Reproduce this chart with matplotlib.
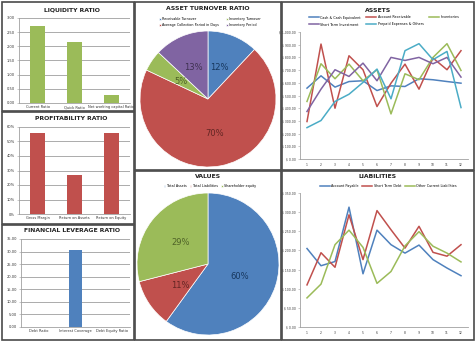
import matplotlib
matplotlib.use("Agg")
import matplotlib.pyplot as plt
from matplotlib.patches import Rectangle
import numpy as np

W, H = 476, 343
plt.rcParams['font.family'] = ['DejaVu Sans']

# ---------------- data ----------------
liq_cats = ["Current Ratio", "Quick Ratio", "Net working capital Ratio"]
liq_vals = [2.71, 2.14, 0.29]
liq_ticks = [0.0, 0.5, 1.0, 1.5, 2.0, 2.5, 3.0]

prof_cats = ["Gross Margin", "Return on Assets", "Return on Equity"]
prof_vals = [0.556, 0.269, 0.562]
prof_ticks = [0.0, 0.1, 0.2, 0.3, 0.4, 0.5, 0.6]

lev_cats = ["Debt Ratio", "Interest Coverage", "Debt Equity Ratio"]
lev_vals = [0.0, 30.6, 0.0]
lev_ticks = [0, 5, 10, 15, 20, 25, 30, 35]

turn_labels = ["Receivable Turnover", "Average Collection Period in Days",
               "Inventory Turnover", "Inventory Period"]
turn_vals = [12, 70, 5, 13]

val_labels = ["Total Assets", "Total Liabilities", "Shareholder equity"]
val_vals = [60, 11, 29]

months = list(range(1, 13))
asset_names = ["Cash & Cash Equivalent", "Account Receivable", "Inventories",
               "Short Term Investment", "Prepaid Expenses & Others"]
cash = [558, 655, 566, 610, 616, 539, 576, 571, 632, 624, 610, 597]
receivable = [295, 905, 400, 813, 703, 413, 597, 747, 550, 795, 703, 853]
inventories = [453, 750, 632, 747, 616, 703, 355, 671, 624, 800, 908, 697]
short_inv = [374, 550, 703, 650, 755, 616, 800, 776, 800, 750, 800, 645]
prepaid = [247, 303, 453, 510, 603, 708, 474, 853, 908, 782, 847, 405]
asset_ticks = list(range(0, 1001, 100))

liab_names = ["Account Payable", "Short Term Debt", "Other Current Liabilities"]
payable = [205, 160, 171, 313, 139, 253, 215, 193, 214, 176, 154, 134]
st_debt = [110, 194, 156, 293, 176, 304, 254, 206, 263, 195, 185, 215]
other_liab = [76, 112, 215, 253, 208, 114, 145, 212, 249, 211, 193, 170]
liab_ticks = list(range(0, 351, 50))

BLUE, RED, GREEN, PURPLE, CYAN = "#4F81BD", "#C0504D", "#9BBB59", "#8064A2", "#4BACC6"
TITLE_FS = 4.4

fig = plt.figure(figsize=(W / 100, H / 100), dpi=100)
fig.patch.set_facecolor("white")


def ax_px(x0, y0, x1, y1, **kw):
    return fig.add_axes([x0 / W, 1 - y1 / H, (x1 - x0) / W, (y1 - y0) / H], **kw)


def panel(x0, y0, x1, y1):
    fig.patches.append(Rectangle((x0 / W, 1 - y1 / H), (x1 - x0) / W, (y1 - y0) / H,
                                 transform=fig.transFigure, fill=False,
                                 edgecolor="#4a4a4a", linewidth=1.2, zorder=10))


def ftext(x, y, s, **kw):
    fig.text(x / W, 1 - y / H, s, ha="center", va="center", **kw)


# panels
panel(2, 2, 134, 111)
panel(2, 112, 134, 224)
panel(2, 225, 134, 340)
panel(135, 2, 281, 170)
panel(135, 171, 281, 340)
panel(282, 2, 474, 170)
panel(282, 171, 474, 340)


def style_ax(ax, ls=2.6):
    for s in ["top", "right"]:
        ax.spines[s].set_visible(False)
    ax.spines["left"].set_color("#a0a0a0")
    ax.spines["bottom"].set_color("#a0a0a0")
    ax.spines["left"].set_linewidth(0.6)
    ax.spines["bottom"].set_linewidth(0.6)
    ax.tick_params(axis="both", labelsize=ls, length=1.5, width=0.4, colors="#a0a0a0",
                   labelcolor="#333333", pad=1.5)


def bar_panel(box, cats, vals, ticks, color, fmt, title, ty):
    ax = ax_px(*box)
    x = np.arange(len(cats))
    ax.bar(x, vals, width=0.38, color=color, zorder=3)
    ax.set_xlim(-0.5, len(cats) - 0.5)
    ax.set_ylim(ticks[0], ticks[-1])
    ax.set_yticks(ticks)
    ax.set_yticklabels([fmt(t) for t in ticks])
    ax.set_xticks(x)
    ax.set_xticklabels(cats)
    ax.yaxis.grid(True, color="#8a8a8a", linewidth=0.5, zorder=0)
    style_ax(ax)
    ax.tick_params(axis="x", length=0)
    ftext((box[0] + box[2]) / 2 - 3, ty, title, fontsize=TITLE_FS, fontweight="bold", color="#222222")
    return ax


bar_panel((19, 18, 130, 103), liq_cats, liq_vals, liq_ticks, GREEN,
          lambda t: f"{t:.2f}", "LIQUIDITY RATIO", 10)
bar_panel((19, 127, 130, 214), prof_cats, prof_vals, prof_ticks, RED,
          lambda t: f"{t*100:.0f}%", "PROFITABILITY RATIO", 119)
bar_panel((21, 239, 130, 327), lev_cats, lev_vals, lev_ticks, BLUE,
          lambda t: f"{t:.2f}", "FINANCIAL LEVERAGE RATIO", 231)

# ---- Asset turnover pie ----
r1 = 68
ax = ax_px(208 - r1, 99 - r1, 208 + r1, 99 + r1)
wedges, _, autot = ax.pie(turn_vals, colors=[BLUE, RED, GREEN, PURPLE], startangle=90,
                          counterclock=False, autopct="%1.0f%%", pctdistance=0.5,
                          wedgeprops=dict(edgecolor="white", linewidth=0.5),
                          textprops=dict(fontsize=6.0))
txtcols = ["#17375E", "#632523", "#4F6228", "#3F3151"]
for t, c in zip(autot, txtcols):
    t.set_color(c)
for t, p in zip(autot, [(0.16, 0.46), (0.1, -0.5), (-0.40, 0.25), (-0.22, 0.46)]):
    t.set_position(p)
ax.set_aspect("equal")
ax.set_xlim(-1, 1)
ax.set_ylim(-1, 1)
ftext(208, 9, "ASSET TURNOVER RATIO", fontsize=TITLE_FS, fontweight="bold", color="#222222")
lax = ax_px(150, 16, 270, 28)
lax.axis("off")
lax.legend(wedges, turn_labels, loc="center", ncol=2, fontsize=2.4, frameon=False,
           handlelength=0.5, handleheight=0.5, columnspacing=2.0, labelspacing=0.5,
           handletextpad=0.4, borderpad=0)

# ---- Values pie ----
r2 = 71
ax = ax_px(208 - r2, 264 - r2, 208 + r2, 264 + r2)
wedges, _, autot = ax.pie(val_vals, colors=[BLUE, RED, GREEN], startangle=90,
                          counterclock=False, autopct="%1.0f%%", pctdistance=0.6,
                          wedgeprops=dict(edgecolor="white", linewidth=0.5),
                          textprops=dict(fontsize=6.0))
for t, c in zip(autot, ["#17375E", "#632523", "#4F6228"]):
    t.set_color(c)
for t, p in zip(autot, [(0.44, -0.17), (-0.39, -0.30), (-0.39, 0.30)]):
    t.set_position(p)
ax.set_aspect("equal")
ax.set_xlim(-1, 1)
ax.set_ylim(-1, 1)
ftext(208, 177, "VALUES", fontsize=TITLE_FS, fontweight="bold", color="#222222")
lax = ax_px(150, 182, 270, 190)
lax.axis("off")
lax.legend(wedges, val_labels, loc="center", ncol=3, fontsize=2.4, frameon=False,
           handlelength=0.5, handleheight=0.5, columnspacing=1.0,
           handletextpad=0.4, borderpad=0)


# ---- line charts ----
def line_panel(box, series, names, colors, ticks, title, ty, legend_box, order, cs):
    ax = ax_px(*box)
    handles = []
    for s, c, n in zip(series, colors, names):
        h, = ax.plot(months, s, color=c, linewidth=1.1, label=n)
        handles.append(h)
    ax.set_xlim(0.5, 12.5)
    ax.set_ylim(ticks[0], ticks[-1])
    ax.set_yticks(ticks)
    ax.set_yticklabels([f"$ {t:,.2f}" for t in ticks])
    ax.set_xticks(months)
    style_ax(ax, ls=2.2)
    ax.tick_params(axis="x", length=0, pad=3)
    ftext((box[0] + box[2]) / 2 - 6, ty, title, fontsize=TITLE_FS, fontweight="bold", color="#222222")
    lax = ax_px(*legend_box)
    lax.axis("off")
    lax.legend([handles[i] for i in order], [names[i] for i in order], loc="center left",
               ncol=3, fontsize=2.4, frameon=False,
               handlelength=3.0, columnspacing=cs, labelspacing=0.9,
               handletextpad=0.5, borderpad=0)


line_panel((300, 32, 468, 159), [cash, receivable, inventories, short_inv, prepaid],
           asset_names, [BLUE, RED, GREEN, PURPLE, CYAN], asset_ticks, "ASSETS", 10,
           (307, 14, 440, 28), [0, 3, 1, 4, 2], 1.5)
line_panel((300, 193, 468, 327), [payable, st_debt, other_liab],
           liab_names, [BLUE, RED, GREEN], liab_ticks, "LIABILITIES", 177,
           (318, 182, 450, 190), [0, 1, 2], 1.0)

fig.savefig("out.png", dpi=100, facecolor="white")
